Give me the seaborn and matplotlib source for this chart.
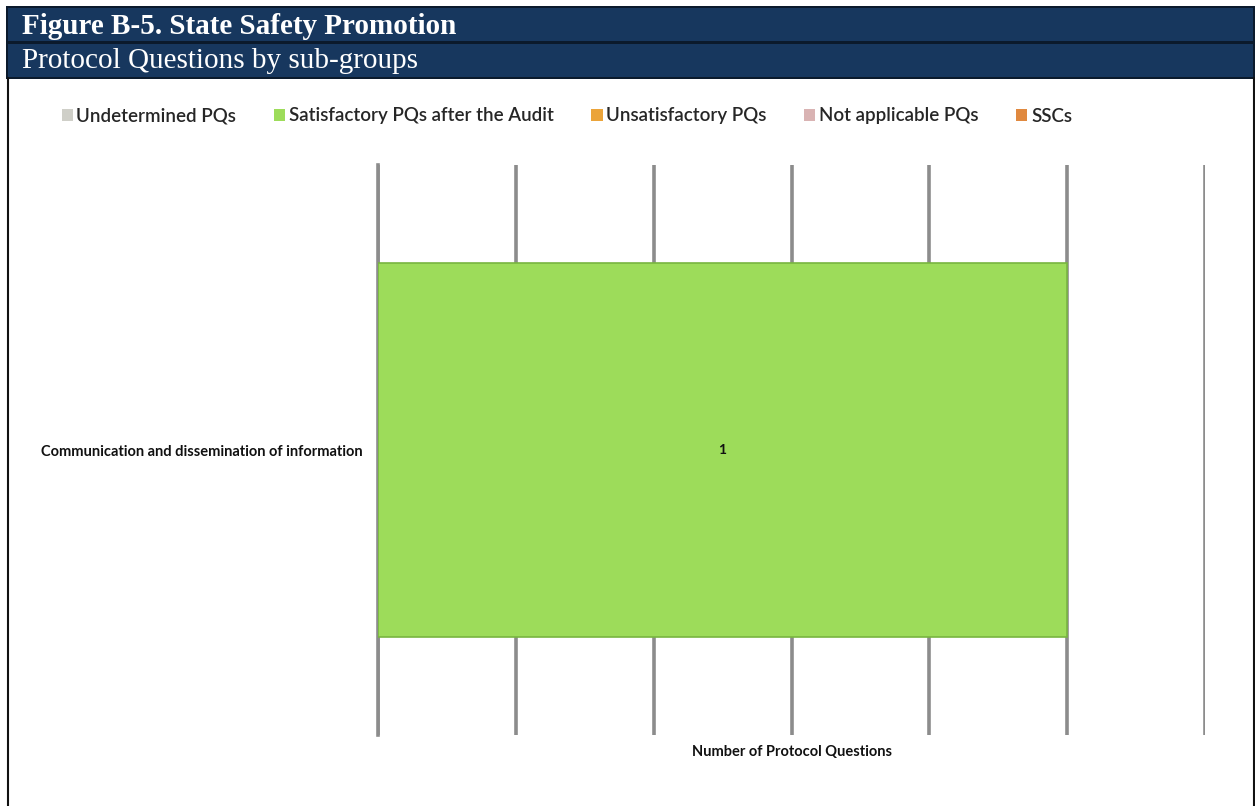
import matplotlib
matplotlib.use("Agg")
import matplotlib.pyplot as plt
from matplotlib.patches import Rectangle, Patch
from matplotlib.lines import Line2D
import seaborn as sns
import pandas as pd

# ---- data ----
categories = ["Communication and dissemination of information"]
series_names = ["Undetermined PQs", "Satisfactory PQs after the Audit",
                "Unsatisfactory PQs", "Not applicable PQs", "SSCs"]
series_colors = ["#cfcfc8", "#9ddc5a", "#eba43a", "#d9b3b3", "#e0893f"]
undetermined = [0]
satisfactory = [1]
unsatisfactory = [0]
not_applicable = [0]
sscs = [0]
x_max = 1.2
x_step = 0.2

sns.set_theme(style="white")
plt.rcParams['font.family'] = ['Lato', 'DejaVu Sans']

fig = plt.figure(figsize=(12.55, 8.06), dpi=100)
W, H = 1255, 806

def fx(px):
    return px / W

def fy(py):
    return 1 - py / H

# title bands
fig.patches.append(Rectangle((fx(6), fy(79)), fx(1249), 73 / H, transform=fig.transFigure,
                             facecolor="#0b1a2c", edgecolor="none", zorder=0))
fig.patches.append(Rectangle((fx(8), fy(41)), fx(1245), 33 / H, transform=fig.transFigure,
                             facecolor="#17375e", edgecolor="none", zorder=1))
fig.patches.append(Rectangle((fx(8), fy(77)), fx(1245), 33 / H, transform=fig.transFigure,
                             facecolor="#17375e", edgecolor="none", zorder=1))
fig.text(fx(22), fy(26), "Figure B-5. State Safety Promotion", color="white",
         fontsize=21, fontweight="bold", family=["Liberation Serif", "DejaVu Serif"],
         va="center", ha="left")
fig.text(fx(22), fy(61), "Protocol Questions by sub-groups", color="white",
         fontsize=21, family=["Liberation Serif", "DejaVu Serif"],
         va="center", ha="left")
# frame borders
fig.add_artist(Line2D([fx(7.5), fx(7.5)], [fy(78), 0], transform=fig.transFigure,
                      color="#111111", lw=1.5))
fig.add_artist(Line2D([fx(1253.5), fx(1253.5)], [fy(78), 0], transform=fig.transFigure,
                      color="#111111", lw=1.5))

ax = fig.add_axes([fx(378), fy(735), fx(1205) - fx(378), (735 - 165) / H])

df = pd.DataFrame({"category": categories, "value": satisfactory})
sns.barplot(data=df, x="value", y="category", orient="h", color=series_colors[1],
            width=0.655, edgecolor="#78b540", linewidth=1.2, ax=ax, zorder=3, saturation=1)

ax.set_xlim(0, x_max)
ax.set_ylim(0.5, -0.5)
ticks = [i * x_step for i in range(int(round(x_max / x_step)) + 1)]
ax.set_xticks(ticks)
ax.set_xticklabels([""] * len(ticks))
ax.tick_params(axis="x", length=0)
ax.grid(axis="x", color="#8c8c8c", lw=2.6)
ax.grid(axis="y", visible=False)
ax.set_axisbelow(True)
for s in ["top", "right", "bottom"]:
    ax.spines[s].set_visible(False)
ax.spines["left"].set_color("#8c8c8c")
ax.spines["left"].set_linewidth(2.6)
ax.set_yticks([-0.5, 0.5], minor=True)
ax.tick_params(axis="y", which="minor", length=4, width=2, color="#8c8c8c", direction="out")
ax.tick_params(axis="y", which="major", length=0, pad=11)
for lab in ax.get_yticklabels():
    lab.set_fontsize(10.5)
    lab.set_fontweight("bold")
    lab.set_color("#111111")
ax.set_ylabel("")
ax.set_xlabel("Number of Protocol Questions", fontsize=10.5, fontweight="bold",
              color="#111111", labelpad=4)

# data label
for i, v in enumerate(satisfactory):
    ax.text(v / 2, i, f"{v}", ha="center", va="center", fontsize=10,
            fontweight="bold", color="#111111", zorder=5)

handles = [Patch(facecolor=c, edgecolor="none") for c in series_colors]
fig.legend(handles, series_names, loc="center left", bbox_to_anchor=(fx(54), fy(116)),
           ncol=5, frameon=False, handlelength=0.6, handleheight=0.6,
           handletextpad=0.2, columnspacing=2.0, borderaxespad=0,
           prop={"size": 13.5, "weight": "semibold", "family": ["Lato", "DejaVu Sans"]})

fig.savefig("out.png", dpi=100)
